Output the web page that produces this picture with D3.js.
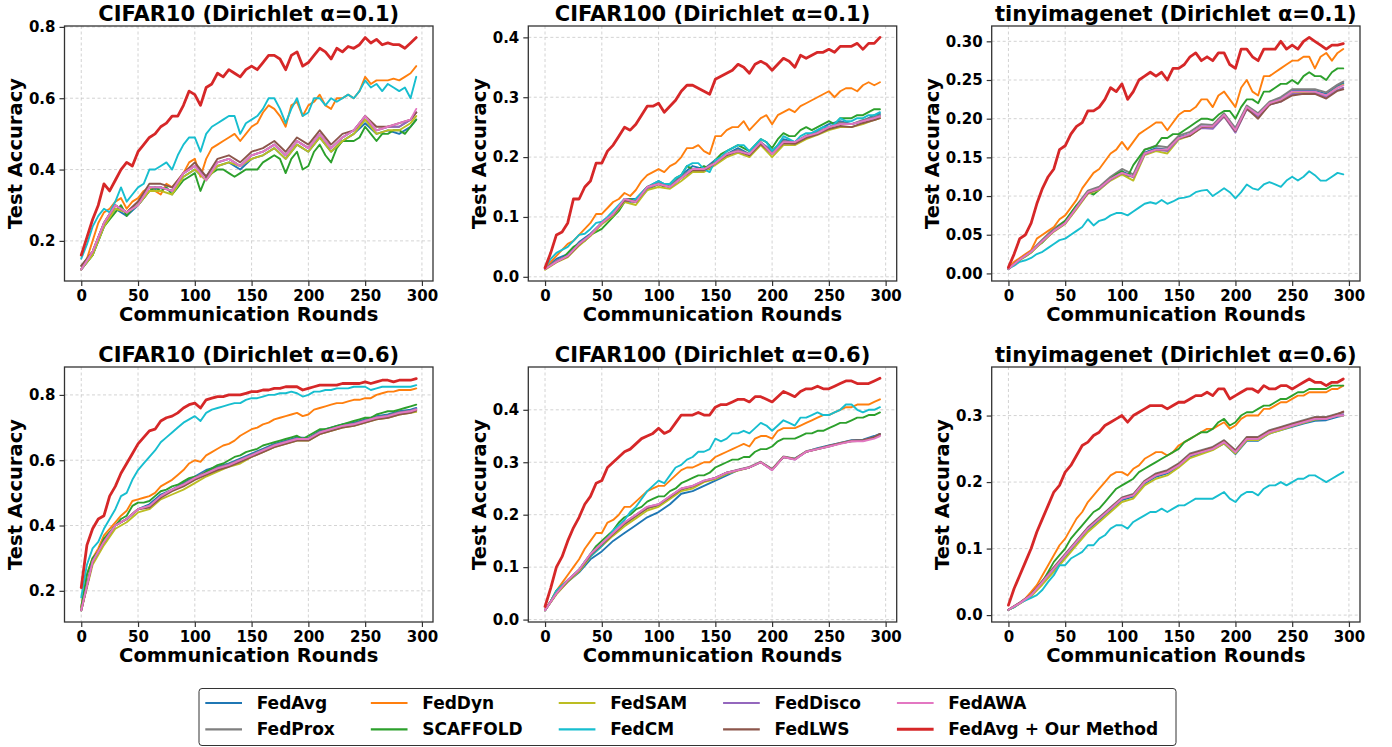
<!DOCTYPE html>
<html><head><meta charset="utf-8">
<script src="https://cdn.jsdelivr.net/npm/d3@7"></script>
<style>body{margin:0;background:#fff}svg text{font-family:"DejaVu Sans",sans-serif;font-weight:bold}</style>
</head><body><svg id="chart" width="1392" height="747"></svg>
<script>
// ---------- categories / labels ----------
const METHODS = ["FedAvg","FedProx","FedDyn","SCAFFOLD","FedSAM","FedCM","FedDisco","FedLWS","FedAWA","FedAvg + Our Method"];
const COLORS = ["#1f77b4","#7f7f7f","#ff7f0e","#2ca02c","#bcbd22","#17becf","#9467bd","#8c564b","#e377c2","#d62728"];
const TITLES = ["CIFAR10 (Dirichlet α=0.1)","CIFAR100 (Dirichlet α=0.1)","tinyimagenet (Dirichlet α=0.1)",
                "CIFAR10 (Dirichlet α=0.6)","CIFAR100 (Dirichlet α=0.6)","tinyimagenet (Dirichlet α=0.6)"];
const X_LABEL = "Communication Rounds";
const Y_LABEL = "Test Accuracy";
const X_TICKS = [0,50,100,150,200,250,300];
const Y_TICKS = [[0.2,0.4,0.6,0.8],[0,0.1,0.2,0.3,0.4],[0,0.05,0.10,0.15,0.20,0.25,0.30],
                 [0.2,0.4,0.6,0.8],[0,0.1,0.2,0.3,0.4],[0,0.1,0.2,0.3]];
const Y_TICK_FMT = [".1f",".1f",".2f",".1f",".1f",".1f"];
const X_DOMAIN = [-14.75,309.75];
const Y_DOMAINS = [[0.0875,0.8025],[-0.007,0.419],[-0.0098,0.3198],[0.1045,0.8855],[-0.0046,0.4816],[-0.0104,0.373]];
// rounds: fine series sampled every 5 rounds, coarse every 10 rounds (+ last round 295)
const ROUNDS_FINE = d3.range(0,300,5);
const ROUNDS_COARSE = d3.range(0,300,10).concat([295]);

// ---------- CIFAR10 alpha=0.1 ----------
const c10a1_FedAvg   = [0.12,0.16,0.24,0.29,0.27,0.30,0.34,0.35,0.34,0.38,0.40,0.37,0.41,0.42,0.40,0.43,0.44,0.46,0.43,0.47,0.45,0.49,0.45,0.48,0.50,0.53,0.50,0.51,0.50,0.52,0.54];
const c10a1_FedProx  = [0.13,0.17,0.25,0.30,0.28,0.31,0.35,0.35,0.34,0.39,0.41,0.38,0.42,0.43,0.41,0.44,0.45,0.47,0.44,0.48,0.46,0.50,0.46,0.49,0.51,0.54,0.51,0.52,0.52,0.54,0.56];
const c10a1_FedSAM   = [0.12,0.16,0.24,0.29,0.28,0.30,0.34,0.34,0.33,0.38,0.40,0.37,0.41,0.42,0.41,0.43,0.44,0.46,0.43,0.47,0.45,0.49,0.45,0.48,0.50,0.54,0.50,0.51,0.51,0.53,0.55];
const c10a1_FedDisco = [0.12,0.17,0.25,0.30,0.28,0.31,0.35,0.35,0.34,0.39,0.41,0.38,0.42,0.43,0.41,0.44,0.45,0.47,0.44,0.48,0.46,0.50,0.46,0.49,0.51,0.55,0.51,0.52,0.52,0.54,0.56];
const c10a1_FedLWS   = [0.13,0.17,0.25,0.30,0.28,0.31,0.36,0.36,0.35,0.39,0.42,0.38,0.43,0.44,0.42,0.45,0.46,0.48,0.45,0.49,0.47,0.51,0.47,0.50,0.51,0.55,0.52,0.52,0.53,0.54,0.56];
const c10a1_FedAWA   = [0.12,0.17,0.25,0.30,0.28,0.30,0.35,0.35,0.34,0.39,0.41,0.37,0.42,0.43,0.41,0.44,0.45,0.47,0.44,0.48,0.46,0.50,0.46,0.49,0.51,0.55,0.51,0.52,0.53,0.54,0.57];
const c10a1_Ours = [0.16,0.21,0.26,0.30,0.36,0.34,0.37,0.40,0.42,0.41, 0.45,0.47,0.49,0.50,0.52,0.53,0.55,0.55,0.58,0.62,
  0.61,0.58,0.63,0.64,0.67,0.66,0.68,0.67,0.66,0.68, 0.69,0.68,0.70,0.72,0.72,0.71,0.68,0.72,0.73,0.69,
  0.70,0.72,0.74,0.73,0.71,0.74,0.73,0.745,0.74,0.75, 0.77,0.755,0.765,0.75,0.755,0.75,0.75,0.74,0.755,0.77];
const c10a1_FedDyn = [0.12,0.15,0.20,0.25,0.28,0.29,0.31,0.32,0.29,0.31, 0.32,0.34,0.35,0.34,0.33,0.36,0.35,0.37,0.39,0.42,
  0.43,0.38,0.43,0.46,0.47,0.48,0.49,0.50,0.48,0.50, 0.52,0.53,0.56,0.58,0.57,0.55,0.52,0.58,0.59,0.55,
  0.58,0.59,0.61,0.58,0.57,0.60,0.60,0.61,0.60,0.62, 0.66,0.64,0.65,0.65,0.65,0.655,0.65,0.66,0.67,0.69];
const c10a1_FedCM = [0.15,0.19,0.24,0.27,0.29,0.28,0.31,0.35,0.31,0.33, 0.35,0.36,0.40,0.40,0.41,0.42,0.40,0.44,0.47,0.49,
  0.49,0.45,0.50,0.52,0.53,0.54,0.55,0.55,0.50,0.53, 0.54,0.55,0.57,0.60,0.60,0.57,0.53,0.57,0.60,0.55,
  0.56,0.60,0.60,0.58,0.60,0.59,0.60,0.61,0.60,0.62, 0.65,0.63,0.64,0.62,0.64,0.63,0.62,0.63,0.60,0.66];
const c10a1_SCAFFOLD = [0.12,0.14,0.16,0.20,0.24,0.26,0.28,0.30,0.27,0.29, 0.30,0.32,0.34,0.35,0.34,0.35,0.33,0.35,0.37,0.38,
  0.39,0.34,0.38,0.39,0.40,0.40,0.39,0.38,0.39,0.40, 0.40,0.40,0.42,0.43,0.44,0.43,0.39,0.43,0.45,0.40,
  0.41,0.45,0.47,0.44,0.42,0.46,0.48,0.48,0.48,0.49, 0.52,0.50,0.48,0.50,0.50,0.51,0.51,0.50,0.52,0.54];

// ---------- CIFAR100 alpha=0.1 ----------
const c100a1_FedAvg   = [0.014,0.03,0.038,0.058,0.072,0.09,0.105,0.13,0.13,0.15,0.16,0.15,0.17,0.185,0.18,0.195,0.205,0.215,0.205,0.225,0.21,0.23,0.225,0.235,0.245,0.255,0.26,0.255,0.26,0.27,0.272];
const c100a1_FedProx  = [0.013,0.027,0.035,0.056,0.07,0.09,0.105,0.13,0.128,0.15,0.157,0.15,0.168,0.18,0.18,0.192,0.205,0.212,0.205,0.225,0.207,0.227,0.225,0.236,0.242,0.25,0.258,0.255,0.262,0.267,0.27];
const c100a1_FedSAM   = [0.012,0.024,0.033,0.052,0.068,0.088,0.102,0.125,0.12,0.145,0.15,0.147,0.16,0.175,0.175,0.187,0.2,0.207,0.2,0.22,0.2,0.22,0.22,0.23,0.237,0.245,0.25,0.25,0.255,0.262,0.265];
const c100a1_FedDisco = [0.013,0.026,0.035,0.055,0.07,0.09,0.104,0.128,0.125,0.148,0.155,0.15,0.165,0.18,0.178,0.19,0.205,0.21,0.204,0.224,0.205,0.225,0.224,0.234,0.24,0.25,0.255,0.255,0.26,0.265,0.268];
const c100a1_FedLWS   = [0.013,0.025,0.034,0.054,0.07,0.09,0.104,0.128,0.125,0.15,0.155,0.15,0.165,0.178,0.178,0.19,0.203,0.21,0.203,0.222,0.205,0.223,0.222,0.232,0.238,0.247,0.252,0.25,0.257,0.262,0.265];
const c100a1_FedAWA   = [0.013,0.025,0.035,0.055,0.07,0.09,0.105,0.13,0.125,0.15,0.155,0.15,0.165,0.18,0.18,0.19,0.205,0.21,0.205,0.225,0.205,0.225,0.225,0.235,0.24,0.25,0.255,0.255,0.26,0.265,0.268];
const c100a1_Ours = [0.015,0.04,0.07,0.075,0.09,0.13,0.13,0.15,0.16,0.19, 0.19,0.21,0.22,0.235,0.25,0.245,0.255,0.27,0.285,0.285,
  0.29,0.275,0.285,0.295,0.31,0.32,0.32,0.315,0.31,0.305, 0.33,0.335,0.34,0.345,0.355,0.35,0.34,0.355,0.36,0.355,
  0.345,0.355,0.365,0.36,0.35,0.37,0.365,0.37,0.375,0.375, 0.38,0.375,0.385,0.385,0.385,0.39,0.38,0.39,0.39,0.40];
const c100a1_FedDyn = [0.015,0.025,0.035,0.045,0.055,0.06,0.07,0.08,0.09,0.105, 0.105,0.115,0.125,0.13,0.14,0.135,0.145,0.16,0.17,0.175,
  0.18,0.175,0.185,0.19,0.20,0.215,0.215,0.22,0.21,0.205, 0.235,0.235,0.245,0.25,0.25,0.26,0.245,0.255,0.265,0.27,
  0.255,0.27,0.275,0.28,0.275,0.285,0.29,0.295,0.30,0.305, 0.31,0.30,0.31,0.315,0.315,0.31,0.32,0.325,0.32,0.325];
const c100a1_SCAFFOLD = [0.013,0.02,0.025,0.03,0.04,0.05,0.055,0.06,0.07,0.075, 0.08,0.09,0.10,0.11,0.125,0.13,0.125,0.135,0.145,0.15,
  0.155,0.15,0.155,0.165,0.17,0.185,0.18,0.18,0.185,0.18, 0.195,0.205,0.21,0.215,0.22,0.215,0.21,0.22,0.23,0.225,
  0.215,0.23,0.24,0.235,0.235,0.245,0.25,0.245,0.25,0.255, 0.26,0.255,0.265,0.265,0.265,0.27,0.27,0.275,0.28,0.28];
const c100a1_FedCM = [0.015,0.03,0.04,0.045,0.05,0.06,0.07,0.072,0.08,0.09, 0.092,0.10,0.11,0.12,0.13,0.125,0.13,0.14,0.15,0.155,
  0.16,0.155,0.155,0.165,0.17,0.185,0.19,0.19,0.18,0.175, 0.195,0.20,0.21,0.215,0.22,0.22,0.21,0.22,0.23,0.225,
  0.21,0.22,0.235,0.23,0.225,0.235,0.24,0.24,0.245,0.25, 0.25,0.255,0.265,0.26,0.26,0.265,0.265,0.27,0.27,0.275];

// ---------- tinyimagenet alpha=0.1 ----------
const tinya1_FedAvg   = [0.006,0.018,0.028,0.043,0.056,0.066,0.086,0.105,0.11,0.123,0.132,0.125,0.156,0.162,0.16,0.176,0.18,0.19,0.19,0.205,0.187,0.215,0.205,0.22,0.226,0.236,0.236,0.236,0.232,0.242,0.246];
const tinya1_FedProx  = [0.006,0.019,0.029,0.044,0.058,0.068,0.088,0.107,0.112,0.125,0.135,0.128,0.16,0.165,0.163,0.178,0.183,0.193,0.192,0.207,0.188,0.217,0.207,0.222,0.228,0.238,0.238,0.238,0.234,0.244,0.248];
const tinya1_FedSAM   = [0.006,0.017,0.027,0.041,0.054,0.064,0.083,0.103,0.108,0.12,0.128,0.12,0.153,0.158,0.155,0.173,0.178,0.188,0.188,0.203,0.183,0.213,0.203,0.218,0.224,0.234,0.234,0.234,0.23,0.24,0.244];
const tinya1_FedDisco = [0.006,0.018,0.028,0.042,0.055,0.065,0.085,0.104,0.109,0.121,0.13,0.124,0.154,0.16,0.158,0.174,0.179,0.188,0.187,0.203,0.182,0.212,0.203,0.218,0.222,0.232,0.232,0.233,0.228,0.237,0.24];
const tinya1_FedLWS   = [0.006,0.018,0.028,0.042,0.055,0.065,0.085,0.104,0.11,0.122,0.13,0.125,0.155,0.16,0.16,0.175,0.178,0.189,0.19,0.204,0.184,0.213,0.2,0.218,0.222,0.23,0.232,0.232,0.226,0.236,0.238];
const tinya1_FedAWA   = [0.006,0.018,0.028,0.042,0.055,0.065,0.085,0.105,0.11,0.122,0.13,0.125,0.155,0.16,0.16,0.175,0.18,0.19,0.19,0.205,0.185,0.215,0.205,0.22,0.225,0.235,0.235,0.235,0.23,0.24,0.243];
const tinya1_Ours = [0.008,0.025,0.045,0.05,0.065,0.09,0.11,0.125,0.135,0.16, 0.165,0.18,0.19,0.195,0.21,0.21,0.215,0.225,0.24,0.235,
  0.245,0.225,0.235,0.25,0.255,0.26,0.255,0.26,0.25,0.265, 0.265,0.27,0.28,0.285,0.275,0.28,0.275,0.285,0.285,0.27,
  0.265,0.29,0.29,0.28,0.275,0.29,0.29,0.29,0.30,0.29, 0.295,0.29,0.30,0.305,0.30,0.295,0.29,0.295,0.295,0.297];
const tinya1_FedDyn = [0.007,0.015,0.02,0.025,0.03,0.045,0.05,0.055,0.06,0.07, 0.075,0.085,0.095,0.11,0.12,0.13,0.135,0.145,0.155,0.16,
  0.17,0.16,0.17,0.18,0.185,0.19,0.195,0.195,0.185,0.195, 0.205,0.21,0.21,0.215,0.225,0.225,0.215,0.23,0.235,0.225,
  0.215,0.24,0.25,0.235,0.23,0.255,0.255,0.26,0.265,0.27, 0.275,0.275,0.28,0.28,0.265,0.28,0.285,0.275,0.285,0.29];
const tinya1_SCAFFOLD = [0.006,0.012,0.018,0.022,0.027,0.035,0.04,0.048,0.055,0.062, 0.068,0.078,0.088,0.095,0.105,0.102,0.108,0.115,0.122,0.128,
  0.132,0.125,0.14,0.15,0.16,0.162,0.165,0.175,0.175,0.18, 0.18,0.185,0.19,0.195,0.20,0.20,0.198,0.205,0.21,0.21,
  0.20,0.215,0.225,0.225,0.22,0.235,0.235,0.24,0.245,0.245, 0.25,0.245,0.255,0.26,0.255,0.255,0.25,0.26,0.265,0.265];
const tinya1_FedCM = [0.006,0.01,0.015,0.017,0.02,0.025,0.028,0.033,0.038,0.043, 0.045,0.05,0.055,0.06,0.07,0.062,0.068,0.07,0.075,0.078,
  0.078,0.075,0.08,0.085,0.09,0.092,0.09,0.095,0.09,0.093, 0.097,0.098,0.10,0.105,0.107,0.108,0.10,0.105,0.11,0.105,
  0.097,0.105,0.115,0.11,0.108,0.115,0.118,0.115,0.112,0.12, 0.125,0.12,0.125,0.132,0.127,0.12,0.12,0.125,0.13,0.128];

// ---------- CIFAR10 alpha=0.6 ----------
const c10a6_FedAvg   = [0.14,0.29,0.35,0.40,0.42,0.45,0.465,0.495,0.51,0.53,0.55,0.57,0.58,0.59,0.605,0.62,0.635,0.65,0.66,0.67,0.668,0.69,0.70,0.71,0.715,0.725,0.735,0.74,0.75,0.755,0.76];
const c10a6_FedProx  = [0.14,0.29,0.35,0.40,0.42,0.45,0.46,0.49,0.51,0.527,0.547,0.565,0.577,0.588,0.602,0.617,0.632,0.647,0.657,0.667,0.667,0.687,0.697,0.707,0.712,0.722,0.732,0.737,0.747,0.752,0.757];
const c10a6_FedSAM   = [0.14,0.28,0.34,0.39,0.41,0.44,0.45,0.48,0.495,0.51,0.53,0.55,0.565,0.58,0.59,0.61,0.625,0.64,0.65,0.66,0.66,0.68,0.69,0.70,0.705,0.715,0.725,0.73,0.74,0.745,0.748];
const c10a6_FedDisco = [0.14,0.29,0.35,0.40,0.42,0.45,0.46,0.49,0.51,0.525,0.545,0.56,0.575,0.585,0.60,0.615,0.63,0.645,0.655,0.665,0.665,0.685,0.695,0.705,0.71,0.72,0.73,0.735,0.745,0.75,0.757];
const c10a6_FedLWS   = [0.14,0.29,0.35,0.40,0.42,0.45,0.455,0.485,0.505,0.52,0.54,0.555,0.57,0.58,0.595,0.61,0.625,0.64,0.65,0.66,0.66,0.68,0.69,0.70,0.705,0.715,0.725,0.73,0.74,0.745,0.752];
const c10a6_FedAWA   = [0.14,0.29,0.35,0.40,0.42,0.45,0.46,0.49,0.51,0.525,0.545,0.56,0.575,0.585,0.60,0.615,0.63,0.645,0.655,0.665,0.665,0.685,0.695,0.705,0.71,0.72,0.73,0.735,0.745,0.75,0.755];
const c10a6_Ours = [0.21,0.34,0.39,0.42,0.43,0.49,0.52,0.56,0.59,0.62, 0.65,0.67,0.69,0.695,0.72,0.73,0.735,0.745,0.76,0.77,
  0.775,0.76,0.785,0.79,0.795,0.795,0.80,0.80,0.80,0.805, 0.81,0.81,0.815,0.815,0.82,0.82,0.825,0.825,0.825,0.815,
  0.82,0.825,0.83,0.83,0.83,0.83,0.835,0.835,0.835,0.835, 0.84,0.835,0.84,0.845,0.845,0.84,0.845,0.845,0.845,0.85];
const c10a6_FedCM = [0.18,0.28,0.33,0.35,0.39,0.42,0.45,0.49,0.50,0.54, 0.57,0.59,0.61,0.63,0.655,0.67,0.685,0.70,0.715,0.725,
  0.735,0.72,0.745,0.755,0.76,0.765,0.77,0.775,0.775,0.785, 0.79,0.79,0.795,0.80,0.80,0.805,0.805,0.81,0.805,0.795,
  0.80,0.81,0.81,0.815,0.815,0.82,0.82,0.82,0.825,0.825, 0.825,0.815,0.82,0.825,0.825,0.825,0.825,0.825,0.825,0.83];
const c10a6_FedDyn = [0.15,0.25,0.30,0.33,0.37,0.39,0.41,0.43,0.445,0.475, 0.48,0.485,0.49,0.50,0.52,0.53,0.54,0.555,0.57,0.59,
  0.60,0.595,0.615,0.625,0.635,0.645,0.65,0.66,0.675,0.685, 0.695,0.70,0.71,0.715,0.725,0.73,0.735,0.74,0.745,0.735,
  0.74,0.755,0.76,0.765,0.77,0.775,0.775,0.78,0.785,0.785, 0.79,0.79,0.80,0.805,0.81,0.81,0.815,0.815,0.815,0.82];
const c10a6_SCAFFOLD = [0.15,0.25,0.30,0.32,0.36,0.38,0.40,0.42,0.43,0.46, 0.47,0.47,0.475,0.49,0.505,0.51,0.52,0.525,0.535,0.545,
  0.55,0.55,0.565,0.575,0.585,0.59,0.60,0.61,0.615,0.625, 0.63,0.635,0.645,0.65,0.655,0.66,0.665,0.67,0.675,0.665,
  0.675,0.685,0.695,0.695,0.70,0.705,0.71,0.715,0.72,0.725, 0.73,0.73,0.74,0.745,0.75,0.75,0.755,0.76,0.765,0.77];

// ---------- CIFAR100 alpha=0.6 ----------
const c100a6_FedAvg   = [0.018,0.05,0.072,0.09,0.115,0.13,0.15,0.165,0.18,0.195,0.205,0.22,0.24,0.245,0.255,0.265,0.275,0.285,0.29,0.30,0.287,0.31,0.307,0.32,0.327,0.332,0.337,0.342,0.343,0.35,0.354];
const c100a6_FedProx  = [0.018,0.05,0.074,0.094,0.122,0.142,0.162,0.182,0.197,0.212,0.218,0.233,0.248,0.254,0.264,0.27,0.28,0.286,0.291,0.301,0.287,0.311,0.307,0.321,0.326,0.331,0.337,0.341,0.342,0.348,0.353];
const c100a6_FedSAM   = [0.018,0.048,0.072,0.092,0.12,0.14,0.16,0.178,0.193,0.208,0.215,0.23,0.245,0.25,0.262,0.268,0.278,0.284,0.29,0.30,0.286,0.31,0.306,0.32,0.325,0.33,0.336,0.34,0.341,0.347,0.352];
const c100a6_FedDisco = [0.018,0.05,0.075,0.095,0.125,0.145,0.165,0.185,0.2,0.215,0.22,0.235,0.25,0.255,0.265,0.27,0.28,0.285,0.29,0.30,0.285,0.31,0.305,0.32,0.325,0.33,0.336,0.34,0.341,0.347,0.352];
const c100a6_FedLWS   = [0.018,0.05,0.074,0.094,0.123,0.143,0.163,0.183,0.198,0.213,0.219,0.234,0.249,0.254,0.264,0.27,0.28,0.285,0.29,0.30,0.286,0.31,0.306,0.32,0.325,0.331,0.336,0.341,0.342,0.348,0.354];
const c100a6_FedAWA   = [0.018,0.05,0.075,0.095,0.125,0.145,0.165,0.185,0.20,0.215,0.22,0.235,0.25,0.255,0.265,0.27,0.28,0.285,0.29,0.30,0.285,0.31,0.305,0.32,0.325,0.33,0.335,0.34,0.34,0.345,0.35];
const c100a6_Ours = [0.025,0.06,0.10,0.12,0.15,0.175,0.195,0.22,0.235,0.26, 0.265,0.29,0.30,0.31,0.32,0.325,0.335,0.345,0.35,0.355,
  0.365,0.355,0.36,0.375,0.39,0.39,0.39,0.395,0.39,0.39, 0.405,0.41,0.41,0.415,0.42,0.42,0.415,0.425,0.425,0.42,
  0.415,0.425,0.435,0.43,0.425,0.435,0.44,0.44,0.445,0.44, 0.44,0.445,0.45,0.455,0.455,0.45,0.45,0.45,0.455,0.46];
const c100a6_FedCM = [0.018,0.035,0.055,0.065,0.075,0.085,0.095,0.11,0.12,0.13, 0.14,0.155,0.17,0.18,0.19,0.205,0.215,0.23,0.245,0.255,
  0.265,0.26,0.275,0.29,0.295,0.305,0.31,0.32,0.32,0.325, 0.345,0.34,0.345,0.355,0.355,0.36,0.355,0.365,0.375,0.37,
  0.36,0.37,0.38,0.375,0.37,0.385,0.385,0.39,0.395,0.39, 0.39,0.395,0.40,0.41,0.41,0.40,0.395,0.40,0.40,0.405];
const c100a6_FedDyn = [0.018,0.035,0.055,0.07,0.085,0.10,0.115,0.135,0.15,0.165, 0.165,0.185,0.19,0.20,0.215,0.215,0.225,0.235,0.245,0.25,
  0.255,0.255,0.265,0.275,0.285,0.29,0.29,0.295,0.30,0.30, 0.31,0.315,0.32,0.325,0.33,0.335,0.33,0.345,0.35,0.35,
  0.345,0.36,0.365,0.365,0.365,0.37,0.375,0.38,0.385,0.39, 0.39,0.395,0.40,0.405,0.405,0.41,0.41,0.41,0.415,0.42];
const c100a6_SCAFFOLD = [0.018,0.035,0.055,0.065,0.075,0.085,0.095,0.11,0.125,0.14, 0.15,0.16,0.17,0.185,0.195,0.20,0.21,0.215,0.225,0.23,
  0.235,0.235,0.245,0.25,0.26,0.265,0.27,0.275,0.275,0.28, 0.29,0.295,0.30,0.305,0.305,0.31,0.31,0.32,0.325,0.325,
  0.33,0.34,0.345,0.345,0.345,0.35,0.355,0.355,0.36,0.36, 0.365,0.37,0.375,0.375,0.38,0.385,0.385,0.39,0.39,0.395];

// ---------- tinyimagenet alpha=0.6 ----------
const tinya6_FedAvg   = [0.008,0.018,0.03,0.05,0.068,0.088,0.108,0.128,0.143,0.158,0.173,0.178,0.198,0.208,0.213,0.223,0.238,0.244,0.249,0.258,0.242,0.262,0.262,0.273,0.278,0.283,0.288,0.292,0.293,0.298,0.30];
const tinya6_FedProx  = [0.008,0.018,0.031,0.052,0.072,0.092,0.112,0.132,0.147,0.162,0.177,0.182,0.202,0.213,0.218,0.228,0.243,0.248,0.253,0.263,0.248,0.268,0.268,0.278,0.283,0.288,0.293,0.298,0.298,0.303,0.305];
const tinya6_FedSAM   = [0.008,0.017,0.028,0.046,0.065,0.085,0.105,0.125,0.14,0.155,0.17,0.175,0.195,0.205,0.21,0.222,0.236,0.242,0.248,0.258,0.243,0.263,0.263,0.273,0.278,0.284,0.289,0.294,0.295,0.3,0.3];
const tinya6_FedDisco = [0.008,0.018,0.03,0.05,0.07,0.09,0.11,0.13,0.145,0.16,0.175,0.18,0.2,0.21,0.215,0.225,0.24,0.245,0.25,0.26,0.245,0.265,0.265,0.275,0.28,0.285,0.29,0.295,0.295,0.3,0.302];
const tinya6_FedLWS   = [0.008,0.019,0.031,0.051,0.071,0.091,0.111,0.131,0.146,0.161,0.176,0.181,0.201,0.212,0.217,0.227,0.242,0.247,0.252,0.262,0.247,0.267,0.267,0.277,0.282,0.287,0.292,0.297,0.297,0.302,0.306];
const tinya6_FedAWA   = [0.008,0.018,0.03,0.05,0.07,0.09,0.11,0.13,0.145,0.16,0.175,0.18,0.20,0.21,0.215,0.225,0.24,0.245,0.25,0.26,0.245,0.265,0.265,0.275,0.28,0.285,0.29,0.295,0.295,0.30,0.30];
const tinya6_Ours = [0.015,0.04,0.06,0.08,0.10,0.125,0.145,0.165,0.185,0.195, 0.215,0.225,0.24,0.255,0.26,0.27,0.275,0.285,0.29,0.295,
  0.30,0.29,0.30,0.305,0.31,0.315,0.315,0.315,0.31,0.315, 0.32,0.32,0.325,0.33,0.33,0.335,0.33,0.34,0.34,0.325,
  0.33,0.335,0.34,0.34,0.335,0.345,0.34,0.34,0.345,0.345, 0.34,0.345,0.35,0.355,0.35,0.35,0.345,0.35,0.35,0.355];
const tinya6_FedDyn = [0.008,0.012,0.018,0.025,0.035,0.045,0.06,0.075,0.09,0.105, 0.115,0.13,0.145,0.155,0.17,0.18,0.19,0.20,0.21,0.215,
  0.215,0.21,0.22,0.225,0.235,0.24,0.245,0.245,0.24,0.245, 0.255,0.26,0.265,0.27,0.275,0.28,0.28,0.285,0.29,0.28,
  0.285,0.295,0.30,0.30,0.30,0.31,0.31,0.315,0.32,0.32, 0.325,0.33,0.33,0.335,0.335,0.335,0.335,0.34,0.34,0.345];
const tinya6_SCAFFOLD = [0.008,0.012,0.018,0.023,0.03,0.04,0.05,0.065,0.08,0.09, 0.10,0.115,0.125,0.135,0.145,0.155,0.16,0.17,0.18,0.19,
  0.195,0.20,0.205,0.215,0.22,0.225,0.23,0.235,0.24,0.245, 0.25,0.26,0.265,0.27,0.275,0.275,0.28,0.29,0.295,0.285,
  0.29,0.30,0.305,0.305,0.31,0.315,0.315,0.32,0.325,0.325, 0.33,0.335,0.335,0.34,0.34,0.34,0.34,0.345,0.345,0.345];
const tinya6_FedCM = [0.008,0.012,0.018,0.022,0.026,0.03,0.038,0.05,0.06,0.075, 0.075,0.085,0.09,0.095,0.105,0.105,0.115,0.12,0.13,0.135,
  0.135,0.13,0.14,0.145,0.15,0.155,0.155,0.16,0.155,0.16, 0.165,0.165,0.17,0.175,0.175,0.175,0.175,0.18,0.185,0.175,
  0.17,0.18,0.185,0.185,0.18,0.19,0.195,0.195,0.20,0.195, 0.20,0.205,0.205,0.21,0.21,0.205,0.20,0.205,0.21,0.215];

// series per panel, in METHODS order
const PANEL_SERIES = [
  [c10a1_FedAvg,c10a1_FedProx,c10a1_FedDyn,c10a1_SCAFFOLD,c10a1_FedSAM,c10a1_FedCM,c10a1_FedDisco,c10a1_FedLWS,c10a1_FedAWA,c10a1_Ours],
  [c100a1_FedAvg,c100a1_FedProx,c100a1_FedDyn,c100a1_SCAFFOLD,c100a1_FedSAM,c100a1_FedCM,c100a1_FedDisco,c100a1_FedLWS,c100a1_FedAWA,c100a1_Ours],
  [tinya1_FedAvg,tinya1_FedProx,tinya1_FedDyn,tinya1_SCAFFOLD,tinya1_FedSAM,tinya1_FedCM,tinya1_FedDisco,tinya1_FedLWS,tinya1_FedAWA,tinya1_Ours],
  [c10a6_FedAvg,c10a6_FedProx,c10a6_FedDyn,c10a6_SCAFFOLD,c10a6_FedSAM,c10a6_FedCM,c10a6_FedDisco,c10a6_FedLWS,c10a6_FedAWA,c10a6_Ours],
  [c100a6_FedAvg,c100a6_FedProx,c100a6_FedDyn,c100a6_SCAFFOLD,c100a6_FedSAM,c100a6_FedCM,c100a6_FedDisco,c100a6_FedLWS,c100a6_FedAWA,c100a6_Ours],
  [tinya6_FedAvg,tinya6_FedProx,tinya6_FedDyn,tinya6_SCAFFOLD,tinya6_FedSAM,tinya6_FedCM,tinya6_FedDisco,tinya6_FedLWS,tinya6_FedAWA,tinya6_Ours]
];

// ---------- layout ----------
const COLS = [{l:64.5,r:433},{l:528.3,r:896.7},{l:991.7,r:1360}];
const ROWS = [{t:26,b:281},{t:367,b:622}];
const svg = d3.select("#chart");
const AX = "#333333";

PANEL_SERIES.forEach((series, i) => {
  const c = COLS[i % 3], rw = ROWS[Math.floor(i / 3)];
  const x = d3.scaleLinear().domain(X_DOMAIN).range([c.l, c.r]);
  const y = d3.scaleLinear().domain(Y_DOMAINS[i]).range([rw.b, rw.t]);
  const g = svg.append("g");
  const clipId = "clip" + i;
  g.append("clipPath").attr("id", clipId).append("rect")
    .attr("x", c.l).attr("y", rw.t).attr("width", c.r - c.l).attr("height", rw.b - rw.t);

  // grid
  const grid = g.append("g").attr("stroke", "#c8c8c8").attr("stroke-width", 0.8).attr("stroke-dasharray", "3,2.5");
  grid.selectAll(".gx").data(X_TICKS).join("line")
    .attr("x1", d => x(d)).attr("x2", d => x(d)).attr("y1", rw.t).attr("y2", rw.b);
  grid.selectAll(".gy").data(Y_TICKS[i]).join("line")
    .attr("y1", d => y(d)).attr("y2", d => y(d)).attr("x1", c.l).attr("x2", c.r);

  // lines
  const line = d3.line().x(d => x(d[0])).y(d => y(d[1]));
  const lg = g.append("g").attr("clip-path", `url(#${clipId})`);
  series.forEach((vals, k) => {
    const rounds = vals.length > 40 ? ROUNDS_FINE : ROUNDS_COARSE;
    const pts = vals.map((v, j) => [rounds[j], v]);
    lg.append("path").datum(pts).attr("d", line).attr("fill", "none")
      .attr("stroke", COLORS[k]).attr("stroke-width", k === 9 ? 2.8 : 1.9)
      .attr("stroke-linejoin", "round").attr("stroke-linecap", "round");
  });

  // frame
  g.append("rect").attr("x", c.l).attr("y", rw.t).attr("width", c.r - c.l).attr("height", rw.b - rw.t)
    .attr("fill", "none").attr("stroke", AX).attr("stroke-width", 1.3);

  // axes
  const xa = g.append("g").attr("transform", `translate(0,${rw.b})`)
    .call(d3.axisBottom(x).tickValues(X_TICKS).tickSize(5).tickPadding(4).tickFormat(d3.format("d")));
  const ya = g.append("g").attr("transform", `translate(${c.l},0)`)
    .call(d3.axisLeft(y).tickValues(Y_TICKS[i]).tickSize(5).tickPadding(4).tickFormat(d3.format(Y_TICK_FMT[i])));
  [xa, ya].forEach(a => {
    a.select(".domain").remove();
    a.selectAll(".tick line").attr("stroke", AX).attr("stroke-width", 1.2);
    a.selectAll(".tick text").attr("fill", "#000").style("font-size", "15px").style("font-family", "DejaVu Sans").style("font-weight", "bold");
  });

  // title & labels
  g.append("text").attr("x", (c.l + c.r) / 2).attr("y", rw.t - 5).attr("text-anchor", "middle")
    .style("font-size", "21px").text(TITLES[i]);
  g.append("text").attr("x", (c.l + c.r) / 2).attr("y", rw.b + 40).attr("text-anchor", "middle")
    .style("font-size", "19.5px").text(X_LABEL);
  let minX = Infinity;
  ya.selectAll(".tick text").each(function () { minX = Math.min(minX, this.getBBox().x + c.l); });
  const ylx = minX - 14;
  const ylyc = (rw.t + rw.b) / 2;
  g.append("text").attr("transform", `translate(${ylx},${ylyc}) rotate(-90)`).attr("text-anchor", "middle")
    .attr("dy", "0.35em").style("font-size", "19.5px").text(Y_LABEL);
});

// ---------- legend ----------
const leg = svg.append("g");
const LEG = {x: 199, y: 688.5, w: 977, h: 57};
leg.append("rect").attr("x", LEG.x).attr("y", LEG.y).attr("width", LEG.w).attr("height", LEG.h)
  .attr("rx", 3).attr("fill", "#fff").attr("stroke", "#333").attr("stroke-width", 1);
const ROW_Y = [703, 729.3];
const HANDLE = 36.7, GAP = 14.7, COLSP = 36;
let cx = 205.3;
for (let col = 0; col < 5; col++) {
  let maxW = 0;
  for (let r = 0; r < 2; r++) {
    const k = col * 2 + r;
    leg.append("line").attr("x1", cx).attr("x2", cx + HANDLE).attr("y1", ROW_Y[r]).attr("y2", ROW_Y[r])
      .attr("stroke", COLORS[k]).attr("stroke-width", k === 9 ? 3 : 2.2);
    const t = leg.append("text").attr("x", cx + HANDLE + GAP).attr("y", ROW_Y[r]).attr("dy", "0.35em")
      .style("font-size", "17px").text(METHODS[k]);
    maxW = Math.max(maxW, t.node().getComputedTextLength());
  }
  cx = cx + HANDLE + GAP + maxW + COLSP;
}
</script></body></html>
